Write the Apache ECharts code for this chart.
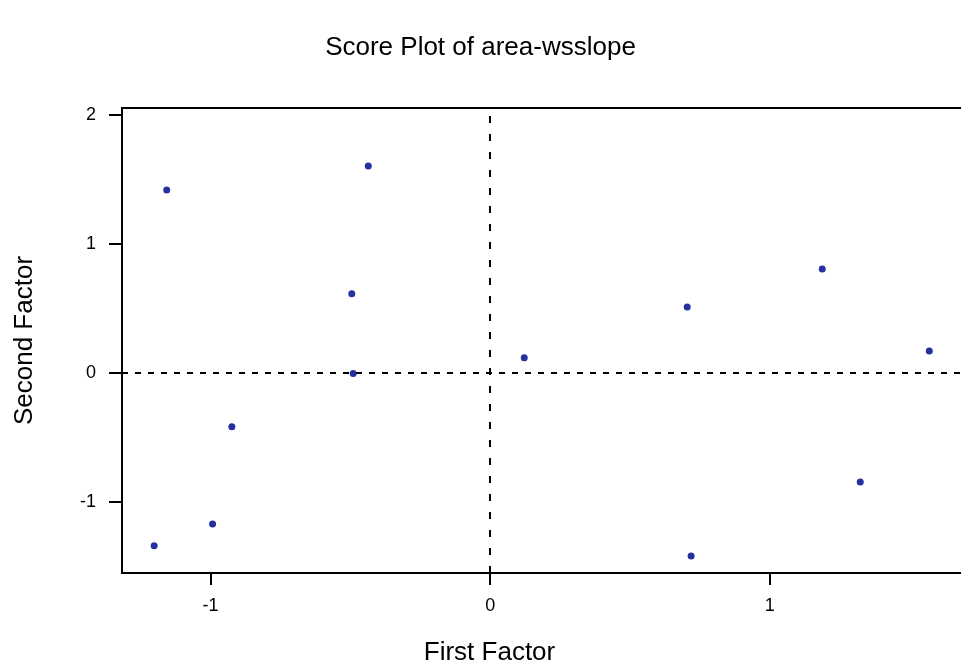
<!DOCTYPE html>
<html>
<head>
<meta charset="utf-8">
<script src="https://cdn.jsdelivr.net/npm/echarts@6/dist/echarts.min.js"></script>
<style>html,body{margin:0;padding:0;background:#fff;}#c{width:961px;height:671px;}</style>
</head>
<body>
<div id="c"></div>
<script>
var titleText = 'Score Plot of area-wsslope';
var xName = 'First Factor';
var yName = 'Second Factor';
var firstFactor  = [-1.157, -0.436, -0.495, -0.490, -0.924, -0.993, -1.202, 0.122, 0.705, 1.188, 1.571, 1.324, 0.719];
var secondFactor = [ 1.419,  1.605,  0.615, -0.003, -0.416, -1.170, -1.339, 0.119, 0.512, 0.806, 0.171, -0.845, -1.419];
var xTicks = [-1, 0, 1];
var yTicks = [-1, 0, 1, 2];

var pts = firstFactor.map(function (x, i) { return [x, secondFactor[i]]; });
var FONT = 'Liberation Sans';
var chart = echarts.init(document.getElementById('c'), null, {renderer: 'canvas'});
chart.setOption({
  animation: false,
  backgroundColor: '#ffffff',
  title: {
    text: titleText, left: 'center', top: 30,
    textStyle: {fontFamily: FONT, fontSize: 26, fontWeight: 'normal', color: '#000'}
  },
  grid: {left: 122, width: 859, top: 108, height: 465, outerBoundsMode: 'none', containLabel: false,
         show: true, borderColor: '#000', borderWidth: 2, backgroundColor: 'transparent'},
  xAxis: {
    type: 'value', min: -1.317, max: 1.756, interval: 1,
    name: xName, nameLocation: 'middle', nameGap: 67,
    nameTextStyle: {fontFamily: FONT, fontSize: 26, color: '#000', padding: [0, 124, 0, 0]},
    axisLine: {show: true, onZero: false, lineStyle: {color: '#000', width: 2}},
    axisTick: {show: true, length: 12, lineStyle: {color: '#000', width: 2}, customValues: xTicks},
    axisLabel: {fontFamily: FONT, fontSize: 18, color: '#000', margin: 24, customValues: xTicks},
    splitLine: {show: false}
  },
  yAxis: {
    type: 'value', min: -1.55, max: 2.054,
    name: yName, nameLocation: 'middle', nameGap: 84, nameRotate: 90,
    nameTextStyle: {fontFamily: FONT, fontSize: 26, color: '#000'},
    axisLine: {show: true, onZero: false, lineStyle: {color: '#000', width: 2}},
    axisTick: {show: true, length: 13, lineStyle: {color: '#000', width: 2}, customValues: yTicks},
    axisLabel: {fontFamily: FONT, fontSize: 18, color: '#000', margin: 26, customValues: yTicks},
    splitLine: {show: false}
  },
  series: [{
    type: 'scatter',
    data: pts,
    symbol: 'circle',
    symbolSize: 7,
    itemStyle: {color: '#2630a0', opacity: 1},
    markLine: {
      silent: true, symbol: 'none', label: {show: false},
      data: [
        {xAxis: 0, lineStyle: {color: '#000', width: 2, type: [7, 11]}},
        {yAxis: 0, lineStyle: {color: '#000', width: 2, type: [6, 7]}}
      ]
    }
  }]
});
</script>
</body>
</html>
